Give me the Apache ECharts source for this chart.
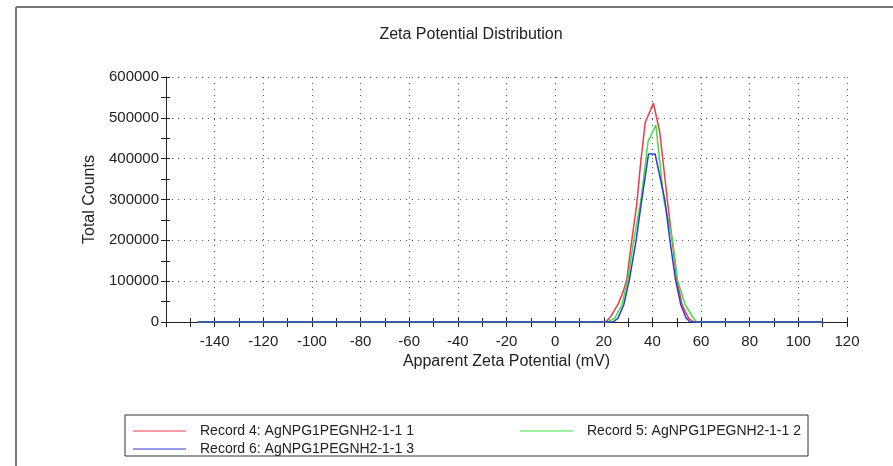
<!DOCTYPE html>
<html>
<head>
<meta charset="utf-8">
<style>
  html, body { margin: 0; padding: 0; background: #fff; }
  #chart { width: 893px; height: 466px; }
</style>
<script src="https://cdn.jsdelivr.net/npm/echarts@6/dist/echarts.min.js"></script>
</head>
<body>
<div id="chart"></div>
<script>
// 数据：每条记录的电位(mV)与计数
var redMv = [-147, 20, 21, 22, 23, 24, 26, 28, 29.5, 31.5, 33.5, 35, 37, 40.4, 43, 46.3, 48.1, 50.1, 52.2, 54.9, 57, 110];
var redCounts = [0, 0, 2000, 7000, 15000, 25000, 45000, 75000, 105000, 200000, 285000, 380000, 488000, 536000, 466000, 290000, 200000, 103000, 42000, 9000, 0, 0];

var greenMv = [-147, 21.6, 24.5, 27.4, 29.9, 32.3, 35.3, 38.2, 41.4, 44.7, 48.3, 50.3, 53.5, 56.9, 58.2, 110];
var greenCounts = [0, 0, 9000, 41600, 103000, 200000, 299000, 441600, 482400, 299000, 200000, 103000, 41600, 9000, 0, 0];

var blueMv = [-147, 23.8, 25.8, 28.2, 30.5, 33.3, 35.3, 38.4, 41.1, 45.1, 47.2, 49.5, 51.7, 53.9, 55.5, 110];
var blueCounts = [0, 0, 9000, 41600, 103000, 200000, 286000, 411400, 411400, 299000, 200000, 103000, 41600, 9000, 0, 0];

var seriesNames = ['Record 4: AgNPG1PEGNH2-1-1 1', 'Record 5: AgNPG1PEGNH2-1-1 2', 'Record 6: AgNPG1PEGNH2-1-1 3'];
var seriesColors = ['#ee3b47', '#3fe03f', '#2b3bd6'];

function pairs(xs, ys) {
    var out = [];
    for (var i = 0; i < xs.length; i++) {
        out.push([xs[i], ys[i]]);
    }
    return out;
}

var font = 'Liberation Sans, Arial, sans-serif';
var dotLine = { color: '#555', width: 1, type: [1, 5] };

function legendFor(name, left, top) {
    return {
        data: [name],
        left: left,
        top: top,
        itemWidth: 53,
        itemHeight: 14,
        icon: 'path://M0,6.5 L53,6.5 L53,7.5 L0,7.5 Z',
        selectedMode: false,
        textStyle: { color: '#222', fontSize: 14, fontFamily: font, padding: [0, 0, 0, 9] }
    };
}

function lineSeries(i, data) {
    return {
        name: seriesNames[i],
        type: 'line',
        data: data,
        symbol: 'none',
        smooth: false,
        xAxisIndex: 0,
        yAxisIndex: 0,
        lineStyle: { color: seriesColors[i], width: 1.5 },
        itemStyle: { color: seriesColors[i] }
    };
}

var myChart = echarts.init(document.getElementById('chart'));

myChart.setOption({
    backgroundColor: '#fff',
    animation: false,
    title: {
        text: 'Zeta Potential Distribution',
        left: 466,
        textAlign: 'center',
        top: 22,
        textStyle: { color: '#222', fontSize: 16, fontWeight: 'normal', fontFamily: font }
    },
    legend: [
        legendFor(seriesNames[0], 128, 419),
        legendFor(seriesNames[1], 515, 419),
        legendFor(seriesNames[2], 128, 437)
    ],
    grid: { left: 166, right: 46, top: 77, bottom: 144 },
    xAxis: [{
        type: 'value',
        min: -160,
        max: 120,
        interval: 20,
        name: 'Apparent Zeta Potential (mV)',
        nameLocation: 'middle',
        nameGap: 24,
        nameTextStyle: { color: '#222', fontSize: 16, fontFamily: font },
        axisLine: { show: true, onZero: false, lineStyle: { color: '#222', width: 1 } },
        axisTick: { show: true, length: 5, lineStyle: { color: '#222' } },
        minorTick: { show: true, splitNumber: 2, length: 5, lineStyle: { color: '#222' } },
        axisLabel: {
            color: '#222', fontSize: 15, fontFamily: font, margin: 12,
            formatter: function (v) { return v === -160 ? '' : String(v); }
        },
        splitLine: { show: true, lineStyle: dotLine }
    }, {
        type: 'value',
        min: -160,
        max: 120,
        interval: 20,
        position: 'bottom',
        axisLine: { show: false, onZero: false },
        axisTick: { show: true, inside: true, length: 4, lineStyle: { color: '#222' } },
        minorTick: { show: true, splitNumber: 2, length: 4, lineStyle: { color: '#222' } },
        axisLabel: { show: false },
        splitLine: { show: false }
    }],
    yAxis: [{
        type: 'value',
        min: 0,
        max: 600000,
        interval: 100000,
        name: 'Total Counts',
        nameLocation: 'middle',
        nameGap: 67,
        nameTextStyle: { color: '#222', fontSize: 16, fontFamily: font },
        axisLine: { show: true, onZero: false, lineStyle: { color: '#222', width: 1 } },
        axisTick: { show: true, length: 5, lineStyle: { color: '#222' } },
        minorTick: { show: true, splitNumber: 2, length: 5, lineStyle: { color: '#222' } },
        axisLabel: {
            color: '#222', fontSize: 15, fontFamily: font, margin: 7,
            formatter: function (v) { return String(v); }
        },
        splitLine: { show: true, lineStyle: dotLine }
    }, {
        type: 'value',
        min: 0,
        max: 600000,
        interval: 100000,
        position: 'left',
        axisLine: { show: false, onZero: false },
        axisTick: { show: true, inside: true, length: 4, lineStyle: { color: '#222' } },
        minorTick: { show: true, splitNumber: 2, length: 4, lineStyle: { color: '#222' } },
        axisLabel: { show: false },
        splitLine: { show: false }
    }],
    graphic: [
        // 外框（上边和左边）
        { type: 'line', shape: { x1: 16, y1: 7, x2: 893, y2: 7 }, style: { stroke: '#777', lineWidth: 2 } },
        { type: 'line', shape: { x1: 16, y1: 7, x2: 16, y2: 466 }, style: { stroke: '#777', lineWidth: 2 } },
        // 图例边框
        { type: 'rect', shape: { x: 125, y: 415, width: 683, height: 41 }, style: { fill: 'none', stroke: '#333', lineWidth: 1 }, z: -1 }
    ],
    series: [
        lineSeries(0, pairs(redMv, redCounts)),
        lineSeries(1, pairs(greenMv, greenCounts)),
        lineSeries(2, pairs(blueMv, blueCounts))
    ]
});
</script>
</body>
</html>
